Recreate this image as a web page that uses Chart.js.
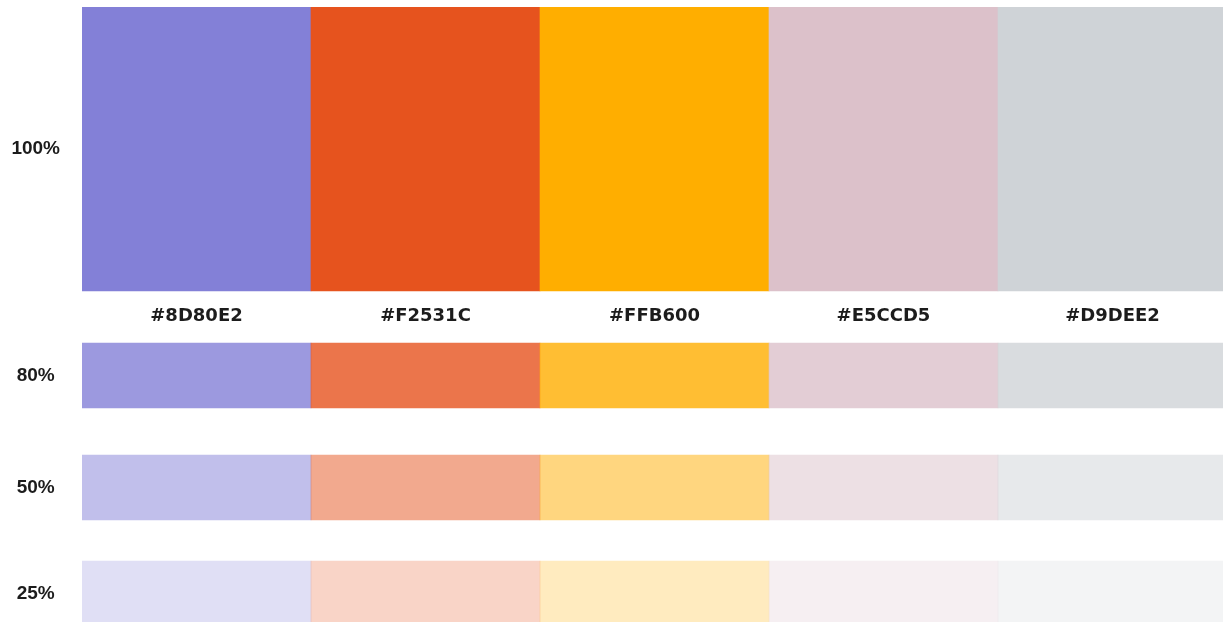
<!DOCTYPE html>
<html><head><meta charset="utf-8">
<script src="https://cdn.jsdelivr.net/npm/chart.js@4/dist/chart.umd.min.js"></script>
<style>html,body{margin:0;padding:0;background:#fff;overflow:hidden;width:1223px;height:622px}#wrap{width:1227px;height:622px;position:relative}</style>
</head><body><div id="wrap"><canvas id="c"></canvas></div>
<script>
// ---- data ----
const hexCodes = ['#8D80E2', '#F2531C', '#FFB600', '#E5CCD5', '#D9DEE2'];
const opacityLabels = ['100%', '80%', '50%', '25%'];
const opacityValues = [1, 0.8, 0.5, 0.25];

// ---- styles / layout ----
// swatch colours as they appear in the reference rendering
const swatchRGB = [[131,128,215],[230,83,30],[255,174,0],[220,193,202],[207,211,215]];
// vertical bands (scale units, 0 = top of plot) for each opacity row
const rowBands = [[0,284],[336,401],[448,513],[554,620]];
const hexLabelBaseline = 314;
const LABEL_FONT = "'Liberation Sans', Arial, sans-serif";
const HEX_FONT = "'DejaVu Sans', sans-serif";

const datasets = opacityValues.map((a, r) => ({
  label: opacityLabels[r],
  data: hexCodes.map(() => rowBands[r]),
  backgroundColor: swatchRGB.map(c => `rgba(${c[0]},${c[1]},${c[2]},${a})`),
  borderWidth: 0,
  barPercentage: 1,
  categoryPercentage: 1,
  grouped: false
}));

const hexLabelPlugin = {
  id: 'hexLabels',
  afterDraw(chart) {
    const {ctx, scales: {x, y}} = chart;
    ctx.save();
    ctx.font = `bold 18px ${HEX_FONT}`;
    ctx.fillStyle = '#1c1c1c';
    ctx.textAlign = 'center';
    ctx.textBaseline = 'alphabetic';
    hexCodes.forEach((h, i) => ctx.fillText(h, x.getPixelForValue(i), y.getPixelForValue(hexLabelBaseline)));
    ctx.restore();
  }
};

new Chart(document.getElementById('c'), {
  type: 'bar',
  data: { labels: hexCodes, datasets },
  options: {
    responsive: true,
    maintainAspectRatio: false,
    animation: false,
    layout: { padding: { top: 7, bottom: 0, left: 0, right: 0 } },
    plugins: { legend: { display: false }, tooltip: { enabled: false } },
    scales: {
      x: { display: false, offset: true, grid: { display: false } },
      y: {
        min: 0, max: 615, reverse: true,
        grid: { display: false, drawTicks: false },
        border: { display: false },
        afterBuildTicks: s => { s.ticks = rowBands.map(b => ({ value: (b[0] + b[1]) / 2 })); },
        afterFit: s => { s.width = 82; s.paddingTop = 0; s.paddingBottom = 0; },
        ticks: {
          crossAlign: 'center',
          padding: 22,
          color: '#1c1c1c',
          font: { family: LABEL_FONT, size: 19, weight: 'bold' },
          callback: (v, i) => opacityLabels[i]
        }
      }
    }
  },
  plugins: [hexLabelPlugin]
});
</script>
</body></html>
